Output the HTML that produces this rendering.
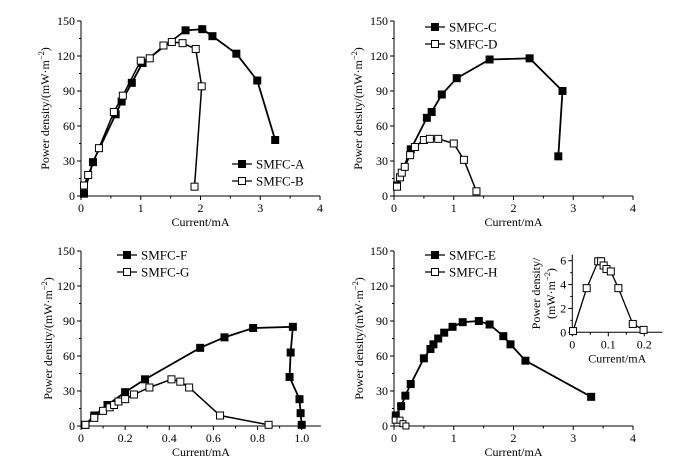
<!DOCTYPE html>
<html><head><meta charset="utf-8"><style>
html,body{margin:0;padding:0;background:#fff;}
svg{display:block;font-family:"Liberation Serif",serif;}
</style></head><body>
<svg id="fig" width="677" height="470" viewBox="0 0 677 470" xmlns="http://www.w3.org/2000/svg"></svg>
<script>
// ---- data ----
const aX=[0.05,0.2,0.58,0.68,0.85,1.03,1.75,2.03,2.2,2.6,2.95,3.25];
const aY=[2,29,70,81,97,114,142,143,137,122,99,48];
const bX=[0.05,0.12,0.3,0.55,0.7,1.0,1.15,1.38,1.52,1.7,1.92,2.02,1.9];
const bY=[9,18,41,72,86,116,118,129,132,131,126,94,8];
const cX=[0.05,0.28,0.55,0.63,0.8,1.05,1.6,2.27,2.82,2.75];
const cY=[9,40,67,72,87,101,117,118,90,34];
const dX=[0.05,0.1,0.13,0.18,0.27,0.35,0.5,0.6,0.74,1.0,1.17,1.38];
const dY=[8,16,20,25,35,42,48,49,49,45,31,4];
const fX=[0.02,0.06,0.12,0.2,0.29,0.54,0.65,0.78,0.96,0.95,0.945,0.99,0.995,1.0];
const fY=[1,9,18,29,40,67,76,84,85,63,42,23,11,1];
const gX=[0.02,0.06,0.1,0.13,0.15,0.17,0.2,0.24,0.31,0.41,0.45,0.49,0.63,0.85];
const gY=[1,7,13,16,18,21,23,27,33,40,38,33,9,1];
const eX=[0.03,0.12,0.19,0.28,0.5,0.61,0.66,0.74,0.84,0.98,1.15,1.42,1.6,1.83,1.95,2.2,3.3];
const eY=[9,17,26,36,58,66,70,75,80,85,89,90,87,77,70,56,25];
const hX=[0.02,0.1,0.15,0.2];
const hY=[5,5,2,0];
const hiX=[0.002,0.04,0.072,0.08,0.087,0.095,0.107,0.128,0.168,0.198];
const hiY=[0.1,3.7,5.95,5.95,5.6,5.3,5.1,3.7,0.7,0.2];
const yTicks=[0,30,60,90,120,150];
const xTicks4=["0","1","2","3","4"];
const xTicksF=["0","0.2","0.4","0.6","0.8","1.0"];
const insetYTicks=[0,2,4,6];
const insetXTicks=["0","0.1","0.2"];

const NS="http://www.w3.org/2000/svg";
const svg=document.getElementById('fig');
function mk(tag,attrs,parent,text){const e=document.createElementNS(NS,tag);for(const k in attrs)e.setAttribute(k,attrs[k]);if(text!==undefined)e.textContent=text;(parent||svg).appendChild(e);return e;}

function panel(o){
  const g=mk('g',{});
  
  
  const sx=v=>o.x0+(v-o.xmin)/(o.xmax-o.xmin)*(o.x1-o.x0);
  const sy=v=>o.y0-(v-o.ymin)/(o.ymax-o.ymin)*(o.y0-o.y1);
  const ax=mk('path',{d:`M${o.x0} ${sy(o.ytop)} V${o.y0} H${sx(o.xend)}`,fill:'none',stroke:'#000','stroke-width':1},g);
  
  
  o.yt.forEach(v=>{const y=sy(v);mk('line',{x1:o.x0-4,x2:o.x0,y1:y,y2:y,stroke:'#000'},g);
    const t=mk('text',{x:o.x0-6,y:y+4,'text-anchor':'end','font-size':o.fs},g,String(v));
    
    if(o.minorY){const ym=sy(v+o.minorY);if(v+o.minorY<o.ytop)mk('line',{x1:o.x0-2,x2:o.x0,y1:ym,y2:ym,stroke:'#000'},g);}
  });
  o.xt.forEach((s,i)=>{const v=o.xmin+i*o.xstep;const x=sx(v);mk('line',{x1:x,x2:x,y1:o.y0,y2:o.y0+4,stroke:'#000'},g);
    const t=mk('text',{x:x,y:o.y0+16,'text-anchor':'middle','font-size':o.fs},g,s);
    
    const xm=v+o.xstep/2;if(xm<o.xend){mk('line',{x1:sx(xm),x2:sx(xm),y1:o.y0,y2:o.y0+2.5,stroke:'#000'},g);}
  });
  const xl=mk('text',{x:(o.x0+sx(o.xend))/2,y:o.y0+30,'text-anchor':'middle','font-size':o.fs},g,'Current/mA');
  
  const yl=mk('text',{transform:`translate(${o.ylx},${(o.y0+sy(o.ytop))/2}) rotate(-90)`,'text-anchor':'middle','font-size':o.fs},g);
  
  if(o.inset){mk('tspan',{x:0,dy:-7},yl,'Power density/');mk('tspan',{x:0,dy:15},yl,'(mW·m');}
  else mk('tspan',{},yl,'Power density/(mW·m');
  mk('tspan',{'font-size':o.fs*0.7,dy:-5},yl,'−2');
  mk('tspan',{dy:5},yl,')');
  o.series.forEach(s=>{
    const pts=s.x.map((v,i)=>sx(v)+','+sy(s.y[i])).join(' ');
    const pl=mk('polyline',{points:pts,fill:'none',stroke:'#000','stroke-width':s.lw||1.8},g);
    
    s.x.forEach((v,i)=>{const r=mk('rect',{x:sx(v)-s.ms/2,y:sy(s.y[i])-s.ms/2,width:s.ms,height:s.ms,fill:s.filled?'#000':'#fff',stroke:'#000','stroke-width':1},g);
      });
  });
  (o.legend||[]).forEach((l,i)=>{const y=o.ly+i*17;
    const lg=mk('g',{},g);
    mk('line',{x1:o.lx,x2:o.lx+20,y1:y,y2:y,stroke:'#000','stroke-width':1.3},lg);
    mk('rect',{x:o.lx+6.5,y:y-3.5,width:7,height:7,fill:l.f?'#000':'#fff',stroke:'#000'},lg);
    mk('text',{x:o.lx+24,y:y+4.5,'font-size':13},lg,l.t);
  });
  return {sx,sy};
}
const base={fs:12,ymin:0,ymax:150,ytop:150,minorY:15};
panel(Object.assign({},base,{name:'panel-a-b',x0:81,x1:320,y0:196,y1:21,xmin:0,xmax:4,xend:4,xstep:1,xt:xTicks4,yt:yTicks,ylx:49,
  series:[{id:'smfc-a',x:aX,y:aY,filled:true,ms:7},{id:'smfc-b',x:bX,y:bY,filled:false,ms:7,lw:1.5}],
  legend:[{t:'SMFC-A',f:true},{t:'SMFC-B',f:false}],lx:232,ly:164}));
panel(Object.assign({},base,{name:'panel-c-d',x0:394,x1:633,y0:196,y1:21,xmin:0,xmax:4,xend:4,xstep:1,xt:xTicks4,yt:yTicks,ylx:362,
  series:[{id:'smfc-c',x:cX,y:cY,filled:true,ms:7},{id:'smfc-d',x:dX,y:dY,filled:false,ms:7,lw:1.5}],
  legend:[{t:'SMFC-C',f:true},{t:'SMFC-D',f:false}],lx:425,ly:27}));
panel(Object.assign({},base,{name:'panel-f-g',x0:81,x1:301.7,y0:426,y1:251,xmin:0,xmax:1,xend:1.087,xstep:0.2,xt:xTicksF,yt:yTicks,ylx:52,
  series:[{id:'smfc-f',x:fX,y:fY,filled:true,ms:7},{id:'smfc-g',x:gX,y:gY,filled:false,ms:7,lw:1.5}],
  legend:[{t:'SMFC-F',f:true},{t:'SMFC-G',f:false}],lx:117,ly:255}));
panel(Object.assign({},base,{name:'panel-e-h',x0:394,x1:633,y0:426,y1:251,xmin:0,xmax:4,xend:4,xstep:1,xt:xTicks4,yt:yTicks,ylx:363,
  series:[{id:'smfc-e',x:eX,y:eY,filled:true,ms:7},{id:'smfc-h',x:hX,y:hY,filled:false,ms:6,lw:1.2}],
  legend:[{t:'SMFC-E',f:true},{t:'SMFC-H',f:false}],lx:425,ly:255}));
panel({name:'inset-smfc-h',fs:12,inset:true,x0:572.3,x1:644.3,y0:332.3,y1:260.7,xmin:0,xmax:0.2,xend:0.25,xstep:0.1,xt:insetXTicks,
  ymin:0,ymax:6,ytop:6.5,minorY:1,yt:insetYTicks,ylx:547,
  series:[{id:'smfc-h-inset',x:hiX,y:hiY,filled:false,ms:7,lw:1.3}]});
</script>
</body></html>
